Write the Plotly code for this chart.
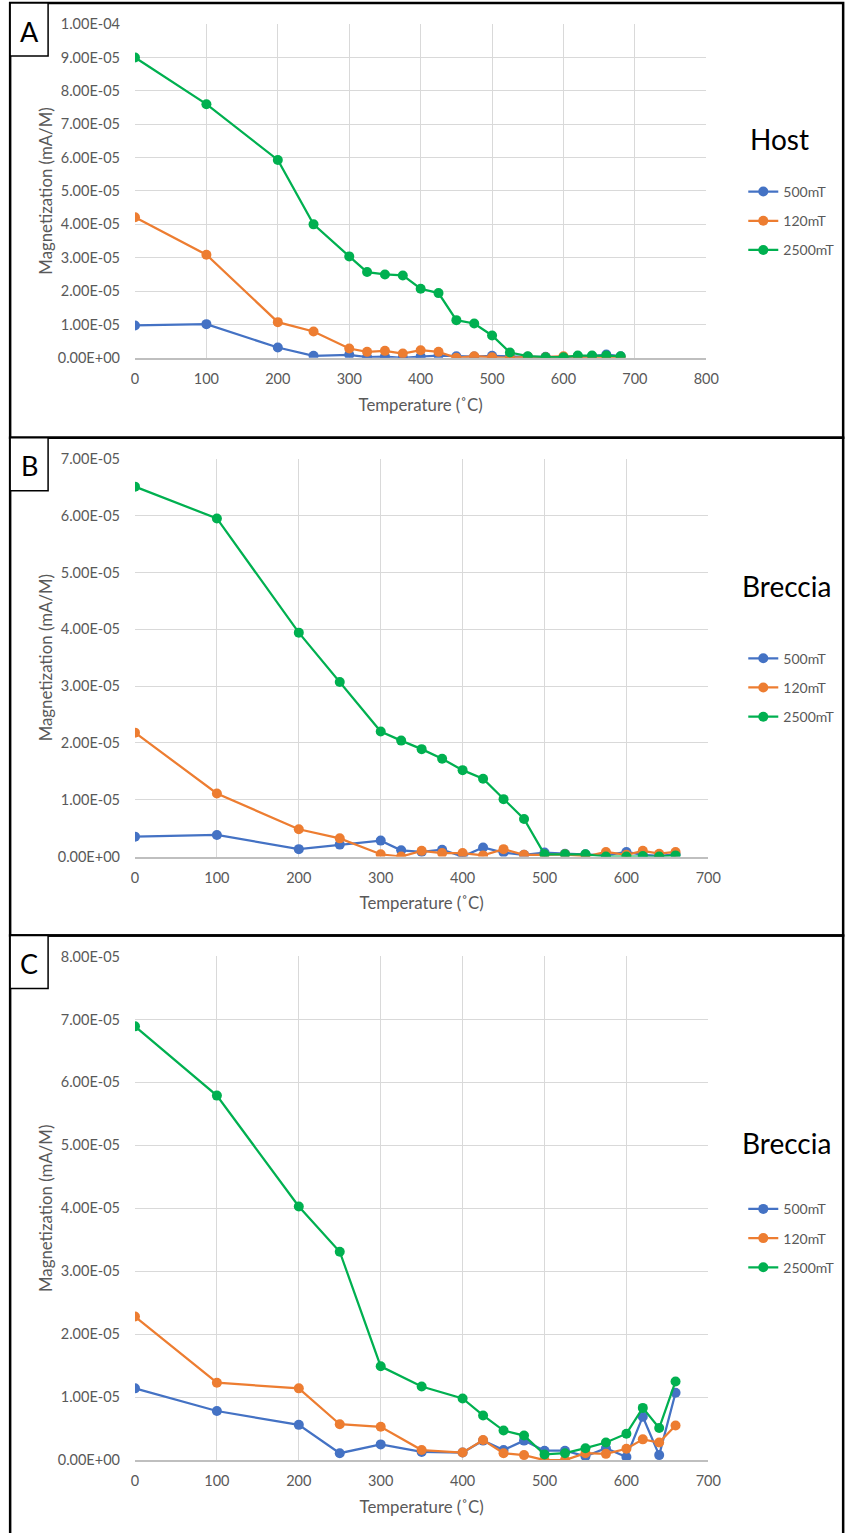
import plotly.graph_objects as go

# ---- data -------------------------------------------------------------
series_names = ["500mT", "120mT", "2500mT"]
series_colors = ["#4472C4", "#ED7D31", "#00B050"]

temp_host = [0, 100, 200, 250, 300, 325, 350, 375, 400, 425, 450, 475, 500,
             525, 550, 575, 600, 620, 640, 660, 680]
host_500 = [0.97e-5, 1.01e-5, 0.31e-5, 0.06e-5, 0.09e-5, 0.02e-5, 0.04e-5, 0.0, 0.04e-5,
            0.07e-5, 0.05e-5, 0.04e-5, 0.06e-5, 0.04e-5, 0.03e-5, 0.03e-5, 0.02e-5,
            0.04e-5, 0.05e-5, 0.10e-5, 0.05e-5]
host_120 = [4.21e-5, 3.09e-5, 1.07e-5, 0.79e-5, 0.28e-5, 0.18e-5, 0.21e-5, 0.13e-5, 0.23e-5,
            0.18e-5, 0.0, 0.05e-5, 0.02e-5, 0.0, 0.03e-5, 0.02e-5, 0.05e-5,
            0.02e-5, 0.0, 0.02e-5, 0.02e-5]
host_2500 = [9.00e-5, 7.60e-5, 5.93e-5, 4.00e-5, 3.04e-5, 2.57e-5, 2.50e-5, 2.47e-5, 2.07e-5,
             1.94e-5, 1.13e-5, 1.03e-5, 0.67e-5, 0.16e-5, 0.05e-5, 0.02e-5, 0.02e-5,
             0.07e-5, 0.07e-5, 0.07e-5, 0.05e-5]

temp_breccia_b = [0, 100, 200, 250, 300, 325, 350, 375, 400, 425, 450, 475, 500,
                  525, 550, 575, 600, 620, 640, 660]
breccia_b_500 = [0.35e-5, 0.38e-5, 0.13e-5, 0.21e-5, 0.28e-5, 0.11e-5, 0.08e-5, 0.12e-5, 0.0,
                 0.16e-5, 0.07e-5, 0.03e-5, 0.07e-5, 0.05e-5, 0.04e-5, 0.02e-5, 0.08e-5,
                 0.03e-5, 0.01e-5, 0.04e-5]
breccia_b_120 = [2.18e-5, 1.11e-5, 0.48e-5, 0.32e-5, 0.04e-5, 0.0, 0.10e-5, 0.06e-5, 0.06e-5,
                 0.02e-5, 0.13e-5, 0.03e-5, 0.03e-5, 0.04e-5, 0.0, 0.08e-5, 0.03e-5,
                 0.10e-5, 0.05e-5, 0.08e-5]
breccia_b_2500 = [6.51e-5, 5.95e-5, 3.94e-5, 3.07e-5, 2.20e-5, 2.04e-5, 1.89e-5, 1.72e-5, 1.52e-5,
                  1.37e-5, 1.01e-5, 0.66e-5, 0.04e-5, 0.04e-5, 0.04e-5, 0.0, 0.0,
                  0.01e-5, 0.0, 0.02e-5]

temp_breccia_c = [0, 100, 200, 250, 300, 350, 400, 425, 450, 475, 500, 525, 550,
                  575, 600, 620, 640, 660]
breccia_c_500 = [1.14e-5, 0.78e-5, 0.56e-5, 0.11e-5, 0.25e-5, 0.13e-5, 0.12e-5, 0.31e-5, 0.16e-5,
                 0.31e-5, 0.15e-5, 0.15e-5, 0.06e-5, 0.19e-5, 0.05e-5, 0.69e-5, 0.08e-5, 1.07e-5]
breccia_c_120 = [2.28e-5, 1.23e-5, 1.14e-5, 0.57e-5, 0.53e-5, 0.16e-5, 0.12e-5, 0.32e-5, 0.11e-5,
                 0.08e-5, 0.0, 0.0, 0.11e-5, 0.10e-5, 0.18e-5, 0.33e-5, 0.28e-5, 0.55e-5]
breccia_c_2500 = [6.89e-5, 5.79e-5, 4.03e-5, 3.31e-5, 1.49e-5, 1.17e-5, 0.98e-5, 0.71e-5, 0.47e-5,
                  0.39e-5, 0.09e-5, 0.11e-5, 0.19e-5, 0.28e-5, 0.42e-5, 0.83e-5, 0.51e-5, 1.25e-5]

# tick labels
x_ticks_host = [0, 100, 200, 300, 400, 500, 600, 700, 800]
x_ticks_breccia = [0, 100, 200, 300, 400, 500, 600, 700]
y_ticks_host = [0, 1e-5, 2e-5, 3e-5, 4e-5, 5e-5, 6e-5, 7e-5, 8e-5, 9e-5, 1e-4]
y_text_host = ["0.00E+00", "1.00E-05", "2.00E-05", "3.00E-05", "4.00E-05", "5.00E-05",
               "6.00E-05", "7.00E-05", "8.00E-05", "9.00E-05", "1.00E-04"]
y_ticks_b = [0, 1e-5, 2e-5, 3e-5, 4e-5, 5e-5, 6e-5, 7e-5]
y_text_b = ["0.00E+00", "1.00E-05", "2.00E-05", "3.00E-05", "4.00E-05", "5.00E-05",
            "6.00E-05", "7.00E-05"]
y_ticks_c = [0, 1e-5, 2e-5, 3e-5, 4e-5, 5e-5, 6e-5, 7e-5, 8e-5]
y_text_c = ["0.00E+00", "1.00E-05", "2.00E-05", "3.00E-05", "4.00E-05", "5.00E-05",
            "6.00E-05", "7.00E-05", "8.00E-05"]

panel_letters = ["A", "B", "C"]
panel_titles = ["Host", "Breccia", "Breccia"]
x_title = "Temperature (˚C)"
y_title = "Magnetization (mA/M)"

# ---- page geometry ----------------------------------------------------
# Layout positions below are given in window pixels; the figure sits inside
# the body margin and is sized to the page box, so window pixels are
# converted to figure pixels before going to paper coordinates.
WIN_W, WIN_H = 846, 1533
BODY_MARGIN = 8
X_SHIFT = 5
W, H = WIN_W + 2 * BODY_MARGIN, WIN_H + 2 * BODY_MARGIN
SX, SY = WIN_W / W, WIN_H / H
FONT = "Lato, Carlito, Calibri, sans-serif"
GREY = "#595959"


def px(x):
    return ((x + X_SHIFT) / SX - BODY_MARGIN) / W


def py(y):
    return 1 - (y / SY - BODY_MARGIN) / H


panels = [
    dict(t=temp_host, ys=[host_500, host_120, host_2500], xr=800, xt=x_ticks_host,
         yr=1e-4, yt=y_ticks_host, ytt=y_text_host,
         plot=(134, 706, 23, 357), box=(2, 437), legend_top=175, title_y=138, title_x=779),
    dict(t=temp_breccia_b, ys=[breccia_b_500, breccia_b_120, breccia_b_2500], xr=700,
         xt=x_ticks_breccia, yr=7e-5, yt=y_ticks_b, ytt=y_text_b,
         plot=(134, 708, 458, 856), box=(437, 935), legend_top=642, title_y=585, title_x=786),
    dict(t=temp_breccia_c, ys=[breccia_c_500, breccia_c_120, breccia_c_2500], xr=700,
         xt=x_ticks_breccia, yr=8e-5, yt=y_ticks_c, ytt=y_text_c,
         plot=(134, 708, 956, 1460), box=(935, 1560), legend_top=1193, title_y=1143, title_x=786),
]

fig = go.Figure()
layout = dict(width=W, height=H, margin=dict(l=0, r=0, t=0, b=0),
              paper_bgcolor="white", plot_bgcolor="white", showlegend=True,
              font=dict(family=FONT, color=GREY, size=14))
shapes = []
annotations = []

for i, p in enumerate(panels):
    n = "" if i == 0 else str(i + 1)
    xa, ya = "x" + n, "y" + n
    leg = "legend" + n
    for k in range(3):
        fig.add_trace(go.Scatter(
            x=p["t"], y=p["ys"][k], mode="lines+markers", name=series_names[k],
            line=dict(color=series_colors[k], width=2.25),
            marker=dict(color=series_colors[k], size=10),
            xaxis=xa, yaxis=ya, legend=leg, legendgroup=f"{i}-{k}"))
    x0, x1, y0, y1 = p["plot"]
    layout["xaxis" + n] = dict(
        domain=[px(x0), px(x1)], range=[0, p["xr"]], tickvals=p["xt"],
        showgrid=True, gridcolor="#d9d9d9", gridwidth=1, zeroline=False,
        showline=True, linecolor="#bfbfbf", linewidth=1.5, ticks="",
        ticklabelstandoff=7, tickfont=dict(size=14.5, color=GREY),
        title=dict(text=x_title, font=dict(size=16.8, color=GREY), standoff=13),
        anchor=ya, fixedrange=True)
    layout["yaxis" + n] = dict(
        domain=[py(y1), py(y0)], range=[0, p["yr"]], tickvals=p["yt"], ticktext=p["ytt"],
        showgrid=True, gridcolor="#d9d9d9", gridwidth=1, zeroline=False,
        showline=False, ticks="", ticklabelstandoff=14,
        tickfont=dict(size=14.5, color=GREY),
        title=dict(text=y_title, font=dict(size=16.8, color=GREY), standoff=0),
        anchor=xa, fixedrange=True)
    layout[leg] = dict(
        x=px(743), y=py(p["legend_top"]), xanchor="left", yanchor="top",
        bgcolor="rgba(0,0,0,0)", font=dict(size=14, color=GREY),
        tracegroupgap=8, traceorder="grouped", itemwidth=30)

    # panel frame and letter box
    b0, b1 = p["box"]
    shapes.append(dict(type="rect", xref="paper", yref="paper",
                       x0=px(9), x1=px(843), y0=py(b1), y1=py(b0),
                       line=dict(color="black", width=2.5), layer="above"))
    shapes.append(dict(type="rect", xref="paper", yref="paper",
                       x0=px(9), x1=px(47), y0=py(b0 + 53), y1=py(b0),
                       line=dict(color="black", width=1.5), fillcolor="white", layer="above"))
    annotations.append(dict(text=panel_letters[i], xref="paper", yref="paper",
                            x=px(28), y=py(b0 + 28), xanchor="center", yanchor="middle",
                            showarrow=False, font=dict(size=27, color="black", family=FONT)))
    annotations.append(dict(text=panel_titles[i], xref="paper", yref="paper",
                            x=px(p["title_x"]), y=py(p["title_y"]), xanchor="center",
                            yanchor="middle", showarrow=False,
                            font=dict(size=28, color="black", family=FONT)))

layout["shapes"] = shapes
layout["annotations"] = annotations
fig.update_layout(**layout)
fig.write_html("out.html")
